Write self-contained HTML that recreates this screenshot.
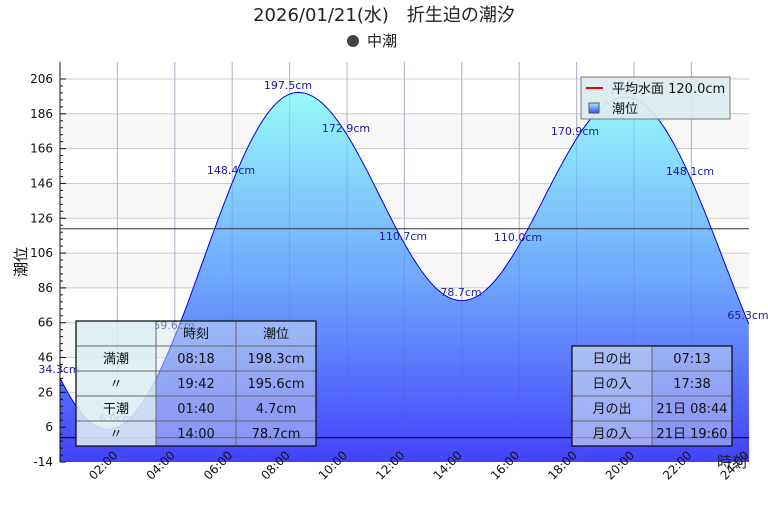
<!DOCTYPE html>
<html><head><meta charset="utf-8"><style>
body{margin:0;background:#fff;width:768px;height:512px;overflow:hidden;font-family:"Liberation Sans","Noto Sans CJK JP",sans-serif}
</style></head><body>
<svg id="s" width="768" height="512" xmlns="http://www.w3.org/2000/svg" font-family="DejaVu Sans, Liberation Sans, Noto Sans CJK JP, sans-serif">
<defs>
<linearGradient id="tg" gradientUnits="userSpaceOnUse" x1="0" y1="92" x2="0" y2="462">
<stop offset="0" stop-color="#98fafa"/><stop offset="0.5" stop-color="#70a8fc"/><stop offset="1" stop-color="#4242fc"/>
</linearGradient>
<linearGradient id="lg" x1="0" y1="0" x2="0" y2="1"><stop offset="0" stop-color="#98fafa"/><stop offset="1" stop-color="#4242fc"/></linearGradient>
</defs>
<text x="384" y="21" font-size="18" text-anchor="middle" fill="#222">2026/01/21(水)　折生迫の潮汐</text>
<circle cx="353" cy="41" r="6" fill="#444"/>
<text x="367" y="46" font-size="15" fill="#222">中潮</text>
<g id="plot"></g>
</svg>
<script>
const NS="http://www.w3.org/2000/svg";
const P=document.getElementById('plot');
function el(t,a,txt){const e=document.createElementNS(NS,t);for(const k in a)e.setAttribute(k,a[k]);if(txt!==undefined)e.textContent=txt;P.appendChild(e);return e;}
const X=h=>60+28.7*h, Y=v=>462-(v+14)*1.741;
for(let v=-14;v<206;v+=20){ if(((v+14)/20)%2==1) el('rect',{x:60,y:Y(v+20),width:689,height:20*1.741,fill:'#f7f7f7'}); }
for(let v=6;v<=206;v+=20) el('line',{x1:60,x2:749,y1:Y(v),y2:Y(v),stroke:'#ccc'});
for(let h=2;h<24;h+=2) el('line',{x1:X(h),x2:X(h),y1:62,y2:462,stroke:'#ccc'});
function tide(t){
 const ex=[[-4.87,200.0],[1.667,4.7],[8.3,198.3],[14,78.7],[19.7,195.6],[26.5,10]];
 for(let i=0;i<ex.length-1;i++){const [t0,v0]=ex[i],[t1,v1]=ex[i+1];
  if(t>=t0&&t<=t1){const f=(1-Math.cos(Math.PI*(t-t0)/(t1-t0)))/2;return v0+(v1-v0)*f;}}
}
let d='M60,462';let line='';
for(let i=0;i<=240;i++){const t=i/10;const p=X(t).toFixed(1)+','+Y(tide(t)).toFixed(1);d+=' L'+p;line+=(i?' L':'M')+p;}
d+=' L749,462 Z';
el('path',{d:d,fill:'url(#tg)'});
el('path',{d:line,fill:'none',stroke:'#0000ee','stroke-width':1});
for(let h=2;h<24;h+=2) el('line',{x1:X(h),x2:X(h),y1:62,y2:462,stroke:'rgba(80,80,200,0.2)'});
el('line',{x1:60,x2:749,y1:Y(120),y2:Y(120),stroke:'#333','stroke-width':1});
el('line',{x1:60,x2:749,y1:Y(0),y2:Y(0),stroke:'#111','stroke-width':1.2});
el('line',{x1:60,x2:60,y1:62,y2:462,stroke:'#111'});
for(let v=-14;v<=206;v+=4){el('line',{x1:60,x2:(v-6)%20==0?66:63,y1:Y(v),y2:Y(v),stroke:'#111'});}
for(let v=-14;v<=206;v+=20) el('text',{x:53,y:Y(v)+4,'font-size':12,'text-anchor':'end',fill:'#111'},String(v));
for(let h=2;h<=24;h+=2){const x=X(h)+1,y=456;el('text',{x:x,y:y,'font-size':12,'text-anchor':'end',transform:`rotate(-45 ${x} ${y})`,fill:'#111'},(h<10?'0':'')+h+':00');}
el('text',{x:26,y:262,'font-size':15,transform:'rotate(-90 26 262)','text-anchor':'middle',fill:'#111'},'潮位');
const an=[[288,89,'197.5cm'],[231,174,'148.4cm'],[346,132,'172.9cm'],[403,240,'110.7cm'],[461,296,'78.7cm'],[518,241,'110.0cm'],[575,135,'170.9cm'],[633,94,'195.5cm'],[690,175,'148.1cm'],[748,319,'65.3cm'],[59,373,'34.3cm'],[116,422,'6.0cm'],[174,329,'59.6cm']];
for(const a of an) el('text',{x:a[0],y:a[1],'font-size':11,'text-anchor':'middle',fill:'#1a1aa0'},a[2]);
el('rect',{x:581,y:77,width:149,height:42,fill:'rgba(220,235,240,0.92)',stroke:'#777'});
el('line',{x1:586,x2:603,y1:88,y2:88,stroke:'#f00','stroke-width':2});
el('text',{x:612,y:93,'font-size':13,fill:'#111'},'平均水面 120.0cm');
el('rect',{x:589,y:103,width:10,height:10,fill:'url(#lg)',stroke:'#555'});
el('text',{x:612,y:113,'font-size':13,fill:'#111'},'潮位');
function table(x0,y0,cols,rows,firstOpaque){
 const W=cols.reduce((a,b)=>a+b,0),H=25*rows.length;
 let cx=x0;
 cols.forEach((w,i)=>{el('rect',{x:cx,y:y0,width:w,height:H,fill:i==0&&firstOpaque?'rgba(220,238,242,0.88)':'rgba(220,235,240,0.45)'});cx+=w;});
 if(!firstOpaque) el('rect',{x:x0,y:y0,width:cols[0],height:H,fill:'rgba(220,235,240,0.25)'});
 for(let r=1;r<rows.length;r++) el('line',{x1:x0,x2:x0+W,y1:y0+25*r,y2:y0+25*r,stroke:'#666'});
 cx=x0;for(let i=0;i<cols.length-1;i++){cx+=cols[i];el('line',{x1:cx,x2:cx,y1:y0,y2:y0+H,stroke:'#666'});}
 el('rect',{x:x0,y:y0,width:W,height:H,fill:'none',stroke:'#111','stroke-width':1.3});
 rows.forEach((row,r)=>{cx=x0;row.forEach((t,i)=>{el('text',{x:cx+cols[i]/2,y:y0+25*r+17,'font-size':13,'text-anchor':'middle',fill:'#111'},t);cx+=cols[i];});});
}
table(76,321,[80,80,80],[['','時刻','潮位'],['満潮','08:18','198.3cm'],['〃','19:42','195.6cm'],['干潮','01:40','4.7cm'],['〃','14:00','78.7cm']],true);
table(572,346,[80,80],[['日の出','07:13'],['日の入','17:38'],['月の出','21日 08:44'],['月の入','21日 19:60']],false);
el('text',{x:732,y:467,'font-size':15,'text-anchor':'middle',fill:'#222'},'時刻');
</script>
</body></html>
